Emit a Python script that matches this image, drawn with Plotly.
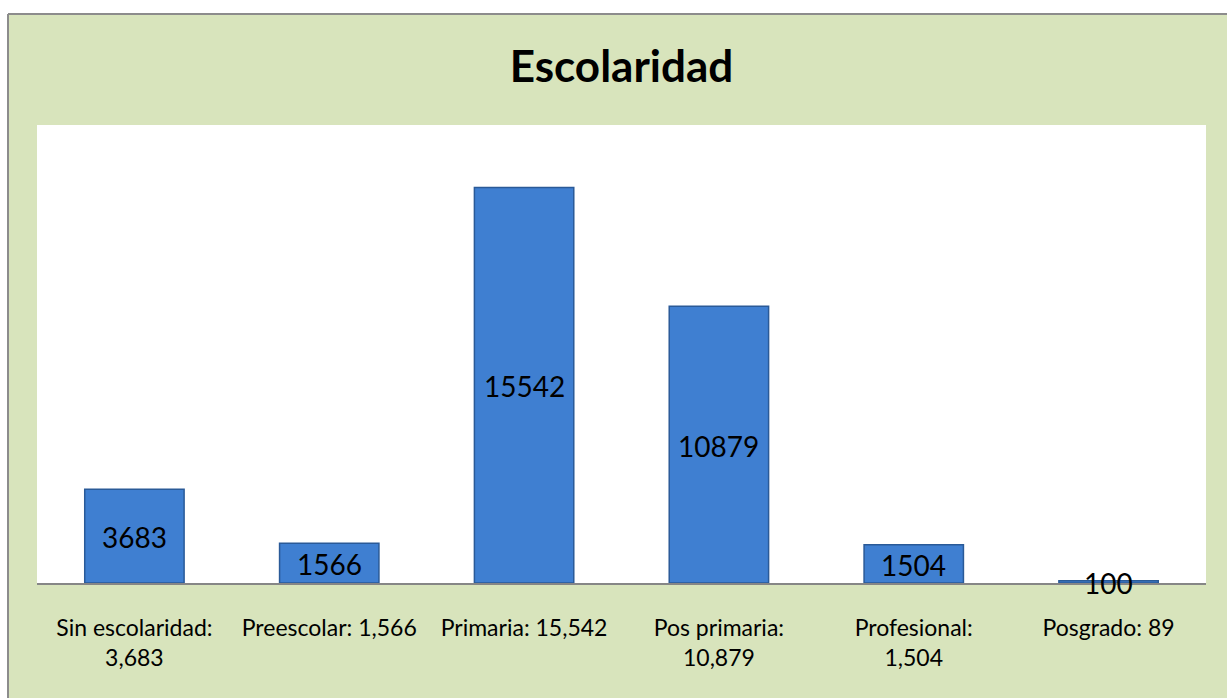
import plotly.graph_objects as go

categories = ["Sin escolaridad:<br>3,683", "Preescolar: 1,566", "Primaria: 15,542",
              "Pos primaria:<br>10,879", "Profesional:<br>1,504", "Posgrado: 89"]
values = [3683, 1566, 15542, 10879, 1504, 89]
bar_labels = ["3683", "1566", "15542", "10879", "1504", "100"]

W, H = 1227, 698
L, R, T, B = 37, 21, 125, 115
pw, ph = W - L - R, H - T - B

def px_x(px):
    return (px - L) / pw

def px_y(py):
    return (H - B - py) / ph

FONT = "Lato"
GREEN = "#D8E4BC"

fig = go.Figure()
fig.add_trace(go.Bar(
    x=list(range(len(categories))), y=values, width=0.51,
    marker=dict(color="#3F7FD1", line=dict(color="#2A5A98", width=1.5)),
    hoverinfo="skip",
))

annotations = [
    dict(x=i, y=v / 2, xref="x", yref="y", text=t, showarrow=False,
         yshift=-1, font=dict(family=FONT, size=28, color="#000000"))
    for i, (v, t) in enumerate(zip(values, bar_labels))
]

shapes = [
    # white strips outside the chart frame
    dict(type="rect", xref="paper", yref="paper", x0=px_x(-5), x1=px_x(7),
         y0=px_y(710), y1=px_y(-5), fillcolor="white", line_width=0, layer="below"),
    dict(type="rect", xref="paper", yref="paper", x0=px_x(-5), x1=px_x(1235),
         y0=px_y(14), y1=px_y(-5), fillcolor="white", line_width=0, layer="below"),
    # frame border
    dict(type="line", xref="paper", yref="paper", x0=px_x(8), x1=px_x(1235),
         y0=px_y(14), y1=px_y(14), line=dict(color="#8C8C8C", width=2)),
    dict(type="line", xref="paper", yref="paper", x0=px_x(8), x1=px_x(8),
         y0=px_y(14), y1=px_y(710), line=dict(color="#8C8C8C", width=2)),
]

fig.update_layout(
    width=W, height=H,
    margin=dict(l=L, r=R, t=T, b=B, pad=0),
    paper_bgcolor=GREEN, plot_bgcolor="white",
    showlegend=False,
    shapes=shapes,
    annotations=annotations,
    title=dict(text="<b>Escolaridad</b>", x=0.5, xref="paper", xanchor="center",
               y=1 - 67 / H, yref="container", yanchor="middle",
               font=dict(family=FONT, size=44, color="#000000")),
    xaxis=dict(
        tickmode="array", tickvals=list(range(len(categories))), ticktext=categories,
        range=[-0.5, len(categories) - 0.5], showgrid=False, zeroline=False,
        showline=True, linecolor="#868686", linewidth=1.5, ticks="",
        tickfont=dict(family=FONT, size=23, color="#000000"), ticklabelstandoff=24,
    ),
    yaxis=dict(range=[0, 18000], visible=False, showgrid=False, zeroline=False),
)

fig.write_html("out.html", config={"displayModeBar": False},
               post_script="document.body.style.margin='0';document.body.style.overflow='hidden';")
